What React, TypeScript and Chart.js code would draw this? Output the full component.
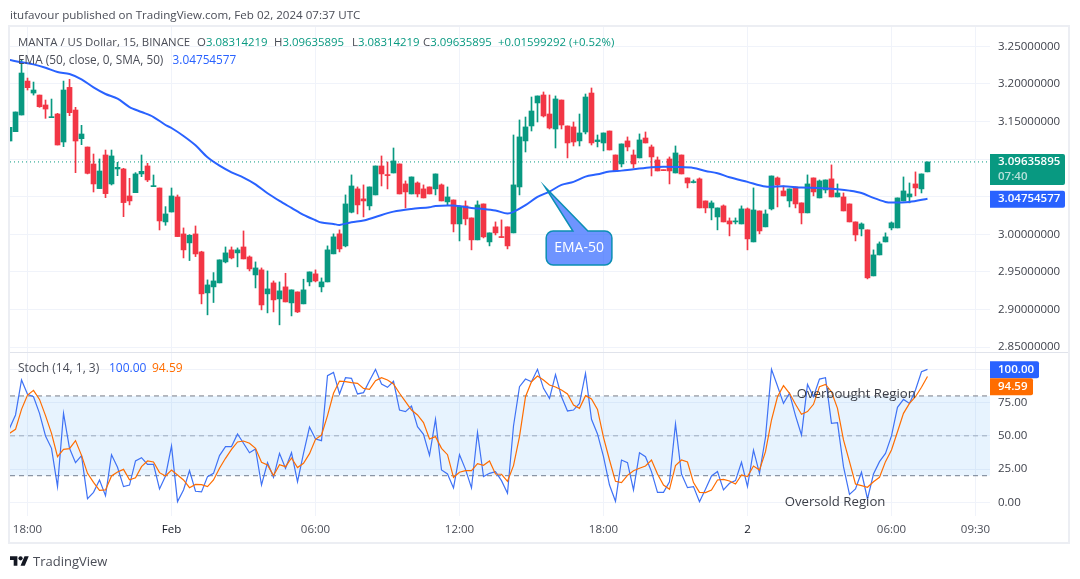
import { useEffect, useRef } from "react";
import { Chart, registerables } from "chart.js";

Chart.register(...registerables);

const FONT = '"Open Sans", sans-serif';
const UP = "#089981";
const DOWN = "#f23645";
const BLUE = "#2962ff";
const ORANGE = "#ff6d00";
const GRID = "#f0f3fa";

// first candle sits left of the 18:00 tick, so bars count from -3
const firstBar = -3;

const opens = [
  3.1242, 3.1366, 3.1588, 3.2039, 3.188, 3.1853, 3.1721, 3.1552, 3.1601, 3.1229, 3.1955, 3.1654, 3.1273, 3.1162, 3.0936,
  3.0609, 3.1056, 3.0671, 3.087, 3.087, 3.0511, 3.0555, 3.0804, 3.091, 3.0635, 3.0617, 3.0166, 3.0298, 3.0498, 3.0006,
  2.9887, 3.0006, 2.9767, 2.9222, 2.9302, 2.9355, 2.9634, 2.9794, 2.9754, 2.9833, 2.97, 2.9461, 2.9528, 2.9209, 2.9355,
  2.9142, 2.9302, 2.9089, 2.9235, 2.9076, 2.9368, 2.9475, 2.9302, 2.9368, 2.9741, 3.0007, 2.9847, 3.0295, 3.0605, 3.0472,
  3.0379, 3.0525, 3.091, 3.0791, 3.0817, 3.0937, 3.0671, 3.0538, 3.0684, 3.0605, 3.0631, 3.0605, 3.0658, 3.0432, 3.0458,
  3.0139, 3.0379, 3.0219, 2.9927, 3.0405, 2.99, 3.01, 2.9967, 3.01, 3.002, 3.0631, 3.1243, 3.1442, 3.1748, 3.1854, 3.1601,
  3.1402, 3.1787, 3.1442, 3.1429, 3.1243, 3.1362, 3.188, 3.1234, 3.1216, 3.1375, 3.1056, 3.0937, 3.1243, 3.1056, 3.1017,
  3.1282, 3.1163, 3.099, 3.0857, 3.1003, 3.0817, 3.1056, 3.0751, 3.0689, 3.0738, 3.0445, 3.0352, 3.0232, 3.0379, 3.0179,
  3.0166, 3.0139, 3.0339, 2.99, 3.0312, 3.01, 3.0339, 3.0751, 3.0578, 3.0445, 3.0631, 3.0419, 3.0286, 3.0751, 3.0485,
  3.0591, 3.0738, 3.0498, 3.0498, 3.0405, 3.0166, 3.0073, 3.006, 2.9448, 2.9727, 2.99, 3.0086, 3.0086, 3.0445, 3.0498,
  3.0671, 3.0605, 3.08314,
];
const highs = [
  3.1424, 3.1628, 3.2319, 3.2079, 3.2026, 3.1853, 3.1787, 3.18, 3.161, 3.2039, 3.2062, 3.169, 3.145, 3.1162, 3.1069,
  3.1003, 3.1122, 3.1122, 3.0959, 3.0879, 3.0746, 3.0821, 3.1056, 3.0945, 3.079, 3.0617, 3.0369, 3.0617, 3.0524, 3.0086,
  2.9997, 3.0112, 2.9776, 2.9395, 2.9492, 2.9661, 2.9833, 2.9833, 2.982, 3.0046, 2.9714, 2.9634, 2.9554, 2.9514, 2.9381,
  2.9368, 2.9483, 2.9262, 2.9235, 2.9404, 2.9501, 2.9528, 2.9421, 2.9847, 3.0007, 3.006, 3.0525, 3.0791, 3.0631, 3.0658,
  3.0631, 3.091, 3.1043, 3.0963, 3.1149, 3.0937, 3.0711, 3.0764, 3.0698, 3.0658, 3.0631, 3.0804, 3.0671, 3.0631, 3.0458,
  3.0379, 3.0445, 3.0219, 3.0445, 3.0405, 3.002, 3.0166, 3.0193, 3.01, 3.1322, 3.1522, 3.1561, 3.1827, 3.1841, 3.1894,
  3.1854, 3.1841, 3.1787, 3.1442, 3.1495, 3.1601, 3.1867, 3.1947, 3.1322, 3.1349, 3.1375, 3.1056, 3.1203, 3.1296, 3.1123,
  3.1336, 3.1362, 3.1189, 3.103, 3.0857, 3.103, 3.1176, 3.1056, 3.0751, 3.0724, 3.0751, 3.0445, 3.0445, 3.0352, 3.0392,
  3.0219, 3.0219, 3.0379, 3.0352, 3.0618, 3.0312, 3.0325, 3.0777, 3.0764, 3.0644, 3.0605, 3.0631, 3.0419, 3.0791, 3.0751,
  3.0724, 3.0724, 3.0924, 3.0671, 3.0551, 3.0405, 3.0166, 3.0153, 3.006, 2.9794, 2.99, 3.002, 3.0166, 3.0485, 3.0764,
  3.0684, 3.0831, 3.0804, 3.09636,
];
const lows = [
  3.1242, 3.1366, 3.1588, 3.192, 3.1853, 3.169, 3.1543, 3.1552, 3.1189, 3.1167, 3.1579, 3.0821, 3.1193, 3.0804, 3.0564,
  3.0609, 3.0489, 3.0657, 3.0781, 3.0236, 3.0392, 3.0555, 3.0768, 3.0702, 3.0635, 3.0059, 3.0121, 3.0298, 2.9971, 2.9687,
  2.9652, 2.9705, 2.9076, 2.893, 2.9094, 2.9355, 2.9621, 2.9674, 2.9568, 2.9674, 2.9514, 2.9288, 2.8996, 2.8956, 2.8969,
  2.8797, 2.9102, 2.8916, 2.896, 2.9076, 2.9315, 2.9368, 2.9235, 2.9368, 2.9741, 2.9767, 2.9834, 3.0286, 3.0272, 3.0232,
  3.0325, 3.0525, 3.0644, 3.0605, 3.0817, 3.0538, 3.0352, 3.0538, 3.0498, 3.0485, 3.0538, 3.0525, 3.0445, 3.0392, 3.0033,
  2.9913, 3.0126, 2.9794, 2.9927, 2.9953, 2.9847, 2.9993, 2.9958, 2.9807, 3.002, 3.0525, 3.1096, 3.1375, 3.1495, 3.1561,
  3.1402, 3.1149, 3.1402, 3.1017, 3.1176, 3.1176, 3.1336, 3.1189, 3.1163, 3.111, 3.1123, 3.0844, 3.0897, 3.111, 3.0884,
  3.1017, 3.1216, 3.0777, 3.0844, 3.0848, 3.0671, 3.0817, 3.0804, 3.0618, 3.0684, 3.0352, 3.0286, 3.0193, 3.006, 3.0166,
  2.998, 3.0139, 3.0139, 2.9794, 2.99, 3.0007, 3.01, 3.0325, 3.0365, 3.0512, 3.0365, 3.0352, 3.0139, 3.0286, 3.0512,
  3.0485, 3.0551, 3.0498, 3.0498, 3.0312, 3.0166, 2.9913, 2.998, 2.9408, 2.9448, 2.9727, 2.99, 3.006, 3.0086, 3.0445,
  3.0419, 3.0512, 3.0551, 3.08314,
];
const closes = [
  3.1424, 3.1628, 3.2146, 3.1951, 3.192, 3.1698, 3.1667, 3.1561, 3.1189, 3.192, 3.1619, 3.1242, 3.1335, 3.0812, 3.0671,
  3.0843, 3.0542, 3.1043, 3.0892, 3.0423, 3.0445, 3.0804, 3.0839, 3.0724, 3.0644, 3.0179, 3.0272, 3.0511, 2.9971, 2.9794,
  2.9988, 2.974, 2.9209, 2.9328, 2.9381, 2.9661, 2.9754, 2.9687, 2.9794, 2.9674, 2.9541, 2.9554, 2.9062, 2.9275, 2.9129,
  2.9249, 2.9102, 2.9262, 2.8969, 2.9262, 2.9501, 2.9381, 2.9368, 2.9794, 2.9967, 2.9807, 3.0405, 3.0644, 3.0392, 3.0445,
  3.0631, 3.091, 3.0804, 3.0782, 3.0977, 3.0538, 3.0565, 3.0764, 3.0538, 3.0485, 3.0538, 3.0804, 3.0445, 3.0498, 3.0139,
  3.0365, 3.0206, 2.9927, 3.0392, 2.9967, 3.002, 3.002, 2.9958, 2.9847, 3.0658, 3.1296, 3.1429, 3.1641, 3.1841, 3.1575,
  3.1415, 3.1801, 3.1455, 3.1216, 3.1229, 3.1349, 3.1827, 3.1216, 3.1256, 3.1349, 3.1123, 3.0844, 3.1203, 3.1163, 3.0937,
  3.1256, 3.1216, 3.103, 3.0844, 3.0848, 3.0844, 3.1083, 3.0804, 3.0684, 3.0698, 3.0352, 3.0352, 3.0419, 3.0352, 3.0166,
  3.0139, 3.0175, 3.0339, 2.994, 3.0325, 3.0046, 3.0272, 3.0777, 3.0658, 3.0512, 3.0605, 3.0405, 3.0286, 3.0671, 3.0565,
  3.0711, 3.0724, 3.0498, 3.0551, 3.0312, 3.0166, 2.9993, 3.0139, 2.9422, 2.9727, 2.9874, 2.9967, 3.0153, 3.0485, 3.0578,
  3.0538, 3.0618, 3.0804, 3.09636,
];

const emaBars = [
  -3, -1, 1, 3, 5, 7, 9, 11, 13, 15, 17, 19, 21, 23, 24, 26, 28, 30, 32, 34, 36, 38, 40, 42, 44, 46, 48, 49, 51, 52, 54,
  56, 58, 61, 64, 67, 68, 71, 74, 76, 78, 80, 81, 83, 85, 87, 89, 91, 93, 95, 97, 99, 101, 104, 106, 108, 111, 113, 115,
  117, 120, 123, 126, 129, 132, 135, 137, 139, 141, 143, 144, 147, 150,
];
const emaValues = [
  3.2319, 3.2288, 3.2261, 3.2217, 3.2159, 3.2133, 3.2062, 3.1955, 3.1867, 3.1805, 3.1694, 3.1628, 3.1561, 3.1455, 3.1415,
  3.1309, 3.1185, 3.1025, 3.0914, 3.0826, 3.0755, 3.0666, 3.0547, 3.0445, 3.0352, 3.0259, 3.0188, 3.0157, 3.0139, 3.0126,
  3.0162, 3.0184, 3.0232, 3.0303, 3.0339, 3.0361, 3.0379, 3.0383, 3.0352, 3.0339, 3.0317, 3.0277, 3.0299, 3.0388, 3.0498,
  3.0569, 3.0658, 3.0698, 3.0768, 3.0799, 3.0835, 3.0848, 3.0866, 3.0893, 3.0901, 3.0897, 3.0884, 3.0844, 3.0813, 3.076,
  3.0698, 3.0636, 3.064, 3.0622, 3.0618, 3.06, 3.0582, 3.0551, 3.0485, 3.0432, 3.0423, 3.0432, 3.0475,
];

const stochK = [
  55.6, 65.7, 92, 81.2, 79.4, 66.9, 49.9, 40.6, 11.8, 66.9, 40.6, 29.8, 35.1, 2.8, 7.5, 16.8, 5, 35.8, 26.3, 11.8, 13,
  31.1, 33.6, 28.6, 28.6, 10, 19.8, 42.4, 0.5, 9.3, 23.8, 8.3, 7.8, 19.3, 21.8, 35.1, 41.9, 41.9, 51.4, 44.4, 37.3, 40.1,
  13, 29.8, 18.8, 36.8, 25.6, 37.3, 15.5, 36.8, 56.6, 47.6, 46.4, 95.2, 97.7, 81.5, 93.7, 93.2, 81.5, 82.5, 91.5, 100, 89,
  86.5, 91, 69.4, 68.2, 72.4, 56.9, 51.1, 35.3, 62.4, 24.3, 21.3, 10.8, 35.8, 24.8, 10.8, 52.6, 19.3, 21.8, 23.1, 16.3,
  6.8, 57.4, 87, 92.7, 90.7, 100, 85.7, 78.2, 96, 79.4, 68.7, 69.4, 74.4, 97, 62.4, 51.4, 34.3, 13, 0.8, 31.8, 29.8, 9.3,
  37.3, 34.3, 23.1, 7.5, 7.5, 15.5, 58.9, 21.3, 11, 11.8, 0.5, 9.8, 19.8, 23.1, 9.3, 14.3, 16.3, 30.1, 11.8, 39.3, 21.8,
  48.9, 100, 87.5, 74.4, 82, 65.2, 50.6, 88.7, 79.4, 92.7, 93.7, 59.4, 59.9, 26.8, 6, 10, 22.6, 2.5, 21.3, 30.6, 36.8,
  49.9, 71.4, 77.4, 74.4, 84.5, 98.2, 100,
];
const stochD = [
  51.9, 54.9, 69.9, 80.7, 84.2, 77.4, 65.2, 51.9, 34.3, 39.8, 40.4, 46.4, 35.3, 21.8, 15, 9, 9.3, 19.8, 22.8, 24.8, 17,
  18.5, 26.8, 31.1, 30.3, 22.3, 19.8, 24.3, 20.6, 16.8, 11, 13.5, 13.3, 11.8, 16.8, 25.6, 33.1, 39.8, 45.4, 46.1, 44.4,
  40.6, 30.1, 28.1, 20.1, 28.3, 26.8, 33.3, 26.1, 29.3, 36.6, 47.4, 50.6, 65.2, 82, 91.2, 90.7, 90, 89.5, 85.7, 85, 91.5,
  93.7, 92, 89, 82, 75.7, 69.4, 65.7, 59.9, 47.6, 49.4, 40.6, 35.8, 18.8, 22.6, 23.8, 23.8, 29.1, 27.8, 31.1, 21.3, 21.1,
  15.8, 27.6, 49.4, 79.4, 90.7, 95, 92, 88.2, 86.7, 84.5, 81.5, 73.2, 70.7, 80.2, 77.7, 69.9, 48.9, 31.8, 15.8, 14.8, 20.3,
  23.8, 25.6, 27.3, 31.8, 21.3, 13, 9.8, 27.6, 31.8, 30.3, 14.8, 7.5, 7.3, 9.3, 16.8, 17.3, 16, 13.8, 20.6, 19.3, 27.3,
  24.3, 38.1, 61.9, 79.4, 87.7, 82, 73.7, 66.2, 68.2, 73.7, 87, 88.7, 83.2, 70.7, 46.9, 30.6, 13.8, 12.5, 11.3, 15.5, 18.8,
  30.6, 39.3, 53.1, 66.9, 74.4, 79.4, 86.5, 94.59,
];

const timeTickBars = [0, 24, 48, 72, 96, 120, 144, 158];
const timeTickLabels = ["18:00", "Feb", "06:00", "12:00", "18:00", "2", "06:00", "09:30"];
const strongTicks = ["Feb", "2"];
const priceTicks = [2.85, 2.9, 2.95, 3.0, 3.05, 3.1, 3.15, 3.2, 3.25];
const stochTicks = [0, 25, 50, 75, 100];
const stochLevels = [80, 50, 20];

const lastPrice = 3.09635895;
const lastEma = 3.04754577;
const lastK = 100;
const lastD = 94.59;

const xMin = -2.92;
const xMax = 160.42;

const bars = opens.map((_, i) => firstBar + i);
const candleColors = opens.map((o, i) => (closes[i] >= o ? UP : DOWN));

function roundBox(ctx: CanvasRenderingContext2D, x: number, y: number, w: number, h: number, fill: string) {
  ctx.fillStyle = fill;
  ctx.beginPath();
  ctx.roundRect(x, y, w, h, [0, 2, 2, 0]);
  ctx.fill();
}

function xScale(display: boolean) {
  return {
    type: "linear",
    min: xMin,
    max: xMax,
    offset: false,
    afterBuildTicks: (s: any) => {
      s.ticks = timeTickBars.map((value) => ({ value }));
    },
    afterFit: (s: any) => {
      s.height = display ? 27 : 0;
      s.paddingLeft = 0;
      s.paddingRight = 0;
    },
    grid: { color: GRID, drawTicks: false, offset: false },
    border: { display: false },
    ticks: {
      display,
      autoSkip: false,
      maxRotation: 0,
      padding: 7,
      color: (c: any) => (strongTicks.includes(c.tick?.label) ? "#131722" : "#4a4d57"),
      font: { family: FONT, size: 11.5 },
      callback: (v: any) => timeTickLabels[timeTickBars.indexOf(Number(v))] ?? "",
    },
  };
}

function yScale(min: number, max: number, ticks: number[], digits: number) {
  return {
    position: "right",
    min,
    max,
    afterBuildTicks: (s: any) => {
      s.ticks = ticks.map((value) => ({ value }));
    },
    afterFit: (s: any) => {
      s.width = 80;
      // labels may overhang the pane, no extra room for them
      s.paddingTop = 0;
      s.paddingBottom = 0;
    },
    grid: { color: GRID, drawTicks: false },
    border: { display: false },
    ticks: {
      padding: 8,
      color: "#3f424c",
      font: { family: FONT, size: 11.5 },
      callback: (v: any) => Number(v).toFixed(digits),
    },
  };
}

// last price / ema tags on the axis and the EMA-50 speech bubble
const pricePlugin = {
  id: "priceTags",
  afterDraw(chart: any) {
    const { ctx, scales } = chart;
    const y = scales.y;
    const x = scales.x;
    ctx.save();

    const tipX = x.getPixelForValue(86.25);
    const tipY = y.getPixelForValue(3.063);
    const left = x.getPixelForValue(86.45);
    const right = x.getPixelForValue(97.4);
    const top = y.getPixelForValue(3.0045);
    const bottom = y.getPixelForValue(2.9593);
    const baseA = x.getPixelForValue(90.9);
    const baseB = x.getPixelForValue(93.4);
    const r = 7;
    ctx.beginPath();
    ctx.moveTo(left + r, top);
    ctx.lineTo(baseA, top);
    ctx.lineTo(tipX, tipY);
    ctx.lineTo(baseB, top);
    ctx.arcTo(right, top, right, bottom, r);
    ctx.arcTo(right, bottom, left, bottom, r);
    ctx.arcTo(left, bottom, left, top, r);
    ctx.arcTo(left, top, right, top, r);
    ctx.closePath();
    ctx.fillStyle = "rgba(41,98,255,0.68)";
    ctx.fill();
    ctx.lineWidth = 1.5;
    ctx.strokeStyle = "#0b8fb3";
    ctx.stroke();
    ctx.fillStyle = "#ffffff";
    ctx.font = `14px ${FONT}`;
    ctx.textAlign = "center";
    ctx.textBaseline = "middle";
    ctx.fillText("EMA-50", (left + right) / 2, (top + bottom) / 2);

    const py = y.getPixelForValue(lastPrice);
    roundBox(ctx, 990, py - 8, 75, 31, UP);
    const ey = y.getPixelForValue(lastEma);
    roundBox(ctx, 990, ey - 8, 75, 17, BLUE);
    ctx.textAlign = "left";
    ctx.font = `600 11.5px ${FONT}`;
    ctx.fillStyle = "#ffffff";
    ctx.fillText(lastPrice.toFixed(8), 998, py);
    ctx.fillText(lastEma.toFixed(8), 998, ey);
    ctx.fillStyle = "rgba(255,255,255,0.7)";
    ctx.fillText("07:40", 998, py + 15);
    ctx.restore();
  },
};

const stochPlugin = {
  id: "stochTags",
  afterDraw(chart: any) {
    const { ctx, scales } = chart;
    const y = scales.y;
    const x = scales.x;
    ctx.save();
    ctx.fillStyle = "#3b3e47";
    ctx.font = `13.2px ${FONT}`;
    ctx.textBaseline = "middle";
    ctx.textAlign = "left";
    ctx.fillText("Overbought Region", x.getPixelForValue(128.2), y.getPixelForValue(81.4));
    ctx.fillText("Oversold Region", x.getPixelForValue(126.2), y.getPixelForValue(0));

    const ky = y.getPixelForValue(lastK);
    const dy = ky + 17;
    roundBox(ctx, 990, ky - 8, 49, 17, BLUE);
    roundBox(ctx, 990, dy - 8, 43, 17, ORANGE);
    ctx.font = `600 11.5px ${FONT}`;
    ctx.fillStyle = "#ffffff";
    ctx.fillText(lastK.toFixed(2), 998, ky);
    ctx.fillText(lastD.toFixed(2), 998, dy);
    ctx.restore();
  },
};

function Label({ left, top, children, size = 11.5 }: { left: number; top: number; children: any; size?: number }) {
  return (
    <div
      style={{
        position: "absolute",
        left,
        top,
        fontFamily: FONT,
        fontSize: size,
        lineHeight: "16px",
        color: "#4a4d57",
        whiteSpace: "pre",
      }}
    >
      {children}
    </div>
  );
}

const g = (s: string) => <span style={{ color: UP }}>{s}</span>;

export default function App() {
  const priceRef = useRef<HTMLCanvasElement>(null);
  const stochRef = useRef<HTMLCanvasElement>(null);

  useEffect(() => {
    if (!priceRef.current || !stochRef.current) return;

    const price = new Chart(priceRef.current, {
      type: "bar",
      data: {
        datasets: [
          {
            type: "line",
            data: [xMin, xMax].map((x) => ({ x, y: lastPrice })),
            borderColor: UP,
            borderWidth: 1,
            borderDash: [1, 3],
            pointRadius: 0,
            order: 5,
          },
          {
            type: "line",
            data: emaBars.map((x, i) => ({ x, y: emaValues[i] })),
            borderColor: BLUE,
            borderWidth: 2,
            pointRadius: 0,
            tension: 0.3,
            order: 1,
          },
          {
            data: bars.map((x, i) => ({ x, y: [opens[i], closes[i]] })),
            backgroundColor: candleColors,
            barThickness: 5,
            grouped: false,
            minBarLength: 1,
            order: 2,
          },
          {
            data: bars.map((x, i) => ({ x, y: [lows[i], highs[i]] })),
            backgroundColor: candleColors,
            barThickness: 1,
            grouped: false,
            order: 3,
          },
        ],
      } as any,
      options: {
        responsive: false,
        animation: false,
        devicePixelRatio: 1,
        layout: { padding: { left: 10, right: 10, top: 27, bottom: 0 } },
        plugins: { legend: { display: false }, tooltip: { enabled: false } },
        scales: {
          x: xScale(false),
          y: yScale(2.8436, 3.2758, priceTicks, 8),
        },
      } as any,
      plugins: [pricePlugin],
    });

    const stoch = new Chart(stochRef.current, {
      type: "line",
      data: {
        datasets: [
          ...stochLevels.map((level, i) => ({
            data: [xMin, xMax].map((x) => ({ x, y: level })),
            borderColor: i === 1 ? "rgba(120,123,134,0.6)" : "#787b86",
            borderWidth: 1,
            borderDash: [5, 4],
            pointRadius: 0,
            backgroundColor: "rgba(33,150,243,0.11)",
            fill: i === 0 ? { value: stochLevels[2] } : false,
            order: 4,
          })),
          {
            data: bars.map((x, i) => ({ x, y: stochK[i] })),
            borderColor: "#3f72f5",
            borderWidth: 1.2,
            pointRadius: 0,
            order: 2,
          },
          {
            data: bars.map((x, i) => ({ x, y: stochD[i] })),
            borderColor: ORANGE,
            borderWidth: 1.2,
            pointRadius: 0,
            order: 1,
          },
        ],
      } as any,
      options: {
        responsive: false,
        animation: false,
        devicePixelRatio: 1,
        layout: { padding: { left: 10, right: 10, top: 1, bottom: 36 } },
        plugins: { legend: { display: false }, tooltip: { enabled: false } },
        scales: {
          x: xScale(true),
          y: yScale(-10.3, 112.3, stochTicks, 2),
        },
      } as any,
      plugins: [stochPlugin],
    });

    return () => {
      price.destroy();
      stoch.destroy();
    };
  }, []);

  return (
    <div style={{ position: "fixed", left: 0, top: 0, width: 1080, height: 579, background: "#fff", overflow: "hidden" }}>
      <canvas ref={priceRef} width={1080} height={352} style={{ position: "absolute", left: 0, top: 0 }} />
      <canvas ref={stochRef} width={1080} height={227} style={{ position: "absolute", left: 0, top: 352 }} />
      <div style={{ position: "absolute", left: 10, top: 352, width: 1060, height: 1, background: "#e0e3eb" }} />
      <div
        style={{
          position: "absolute",
          left: 8,
          top: 25,
          width: 1062,
          height: 519,
          boxSizing: "border-box",
          border: "2px solid #eceef3",
          pointerEvents: "none",
        }}
      />
      <Label left={10} top={7} size={11.6}>
        itufavour published on TradingView.com, Feb 02, 2024 07:37 UTC
      </Label>
      <Label left={18} top={34} size={11.4}>
        MANTA / US Dollar, 15, BINANCE
      </Label>
      <Label left={197} top={34} size={11.4}>
        {"O"}
        {g("3.08314219")}
      </Label>
      <Label left={274} top={34} size={11.4}>
        {"H"}
        {g("3.09635895")}
      </Label>
      <Label left={352} top={34} size={11.4}>
        {"L"}
        {g("3.08314219")}
      </Label>
      <Label left={423} top={34} size={11.4}>
        {"C"}
        {g("3.09635895")}
      </Label>
      <Label left={498} top={34} size={11.4}>
        {g("+0.01599292 (+0.52%)")}
      </Label>
      <Label left={18} top={51} size={11.8}>
        {"EMA (50, close, 0, SMA, 50)   "}
        <span style={{ color: BLUE }}>3.04754577</span>
      </Label>
      <Label left={18} top={360} size={12}>
        Stoch (14, 1, 3)
      </Label>
      <Label left={109} top={360} size={12}>
        <span style={{ color: BLUE }}>100.00</span>
      </Label>
      <Label left={152} top={360} size={12}>
        <span style={{ color: ORANGE }}>94.59</span>
      </Label>
      <svg viewBox="0 0 36 28" width={19} height={15} style={{ position: "absolute", left: 10, top: 554 }}>
        <path d="M14 22H7V11H0V4h14v18zM28 22h-8l7.5-18h8L28 22z" fill="#131722" />
        <circle cx="20" cy="8" r="4" fill="#131722" />
      </svg>
      <Label left={33} top={553} size={13}>
        TradingView
      </Label>
    </div>
  );
}
